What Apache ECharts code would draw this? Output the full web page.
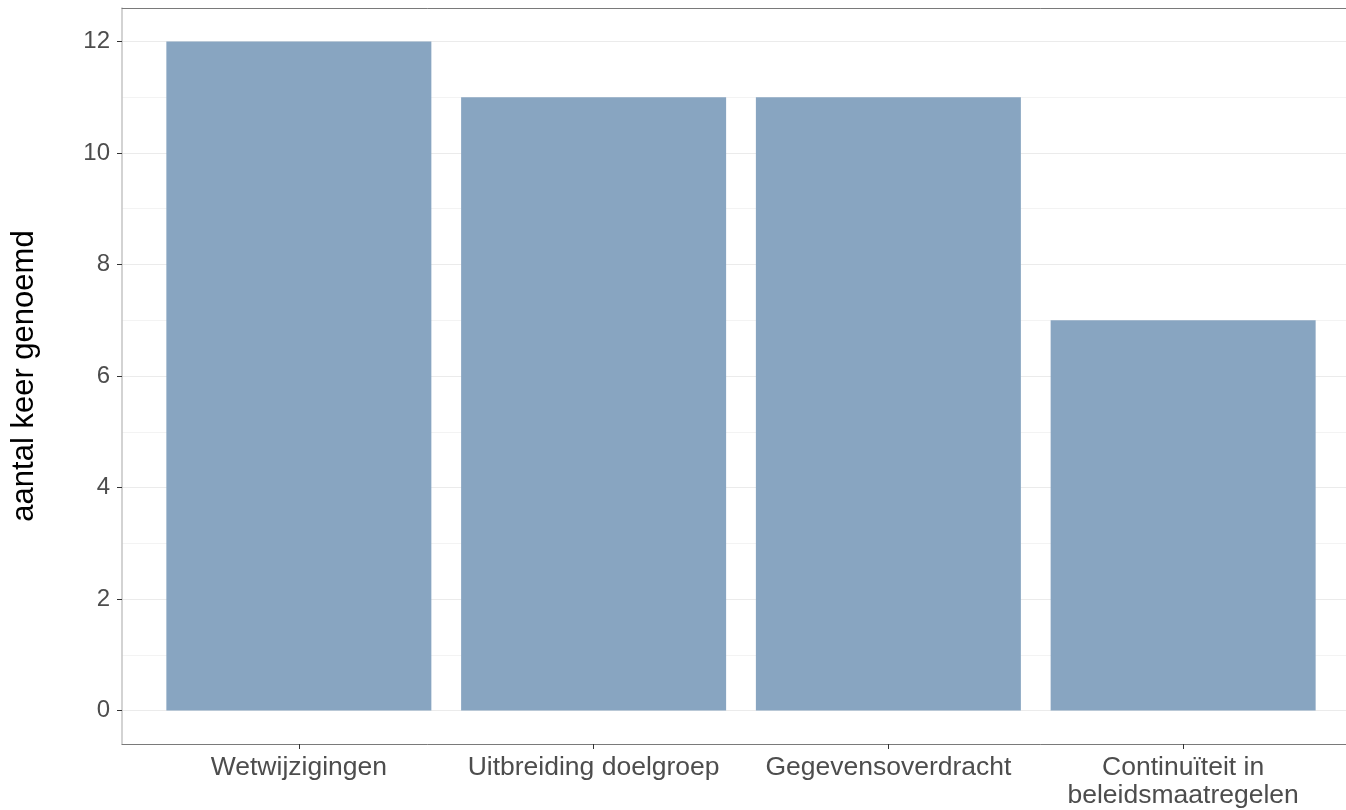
<!DOCTYPE html>
<html>
<head>
<meta charset="utf-8">
<script src="https://cdn.jsdelivr.net/npm/echarts@6/dist/echarts.min.js"></script>
<style>
html,body{margin:0;padding:0;background:#fff;}
#chart{width:1346px;height:810px;}
</style>
</head>
<body>
<div id="chart"></div>
<script>
const categories = ['Wetwijzigingen', 'Uitbreiding doelgroep', 'Gegevensoverdracht', 'Continuïteit in\nbeleidsmaatregelen'];
const values = [12, 11, 11, 7];
const yMajorTicks = [0, 2, 4, 6, 8, 10, 12];
const yMinorTicks = [1, 3, 5, 7, 9, 11];
const xPositions = [1, 2, 3, 4];

const FONT = '"Liberation Sans", Arial, Helvetica, sans-serif';
const chart = echarts.init(document.getElementById('chart'), null, {renderer: 'canvas'});

const option = {
  animation: false,
  backgroundColor: '#ffffff',
  grid: {left: 122, right: 0, top: 8, bottom: 65, containLabel: false},
  xAxis: [
    {
      type: 'value', min: 0.4, max: 4.5525, position: 'bottom',
      axisLine: {show: true, onZero: false, lineStyle: {color: '#7a7a7a', width: 1}},
      axisTick: {show: true, customValues: xPositions, length: 5, lineStyle: {color: '#333333'}},
      axisLabel: {
        show: true, customValues: xPositions, margin: 10,
        fontFamily: FONT, fontSize: 26.5, color: '#4d4d4d', lineHeight: 28,
        formatter: v => categories[Math.round(v) - 1] || ''
      },
      splitLine: {show: false}
    },
    {
      type: 'value', min: 0.4, max: 4.5525, position: 'top',
      axisLine: {show: true, onZero: false, lineStyle: {color: '#7a7a7a', width: 1}},
      axisTick: {show: false}, axisLabel: {show: false}, splitLine: {show: false}
    }
  ],
  yAxis: [
    {
      type: 'value', min: -0.6, max: 12.6,
      name: 'aantal keer genoemd', nameLocation: 'middle', nameGap: 82, nameRotate: 90,
      nameTextStyle: {fontFamily: FONT, fontSize: 31, color: '#000000'},
      axisLine: {show: true, onZero: false, lineStyle: {color: '#c4c4c4', width: 1.5}},
      axisTick: {show: true, customValues: yMajorTicks, length: 5, lineStyle: {color: '#333333'}},
      axisLabel: {show: true, customValues: yMajorTicks, margin: 12, fontFamily: FONT, fontSize: 24, color: '#4d4d4d'},
      splitLine: {show: true, lineStyle: {color: '#ebebeb', width: 1}}
    },
    {
      type: 'value', min: -0.6, max: 12.6, position: 'left',
      axisLine: {show: false},
      axisTick: {show: false, customValues: yMinorTicks},
      axisLabel: {show: false, customValues: yMinorTicks},
      splitLine: {show: true, lineStyle: {color: '#f3f3f3', width: 1}}
    }
  ],
  series: [{
    type: 'bar',
    xAxisIndex: 0, yAxisIndex: 0,
    barWidth: 265,
    itemStyle: {color: '#88a5c1'},
    data: values.map((v, i) => [xPositions[i], v])
  }]
};
chart.setOption(option);
</script>
</body>
</html>
